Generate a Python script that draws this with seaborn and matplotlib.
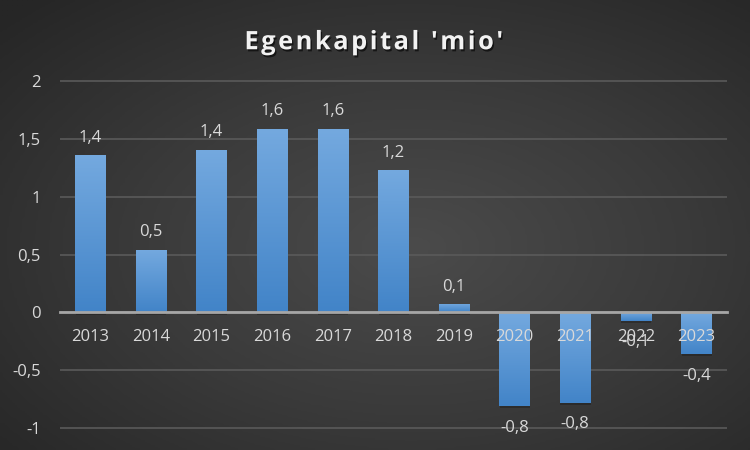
import numpy as np
import seaborn as sns
import matplotlib.pyplot as plt
import matplotlib.patheffects as pe
from matplotlib.colors import LinearSegmentedColormap

years = ["2013", "2014", "2015", "2016", "2017", "2018", "2019", "2020", "2021", "2022", "2023"]
values = [1.36, 0.54, 1.41, 1.59, 1.59, 1.23, 0.07, -0.81, -0.78, -0.07, -0.36]
yticks = [-1, -0.5, 0, 0.5, 1, 1.5, 2]
title = "Egenkapital 'mio'"


def comma(v):
    s = f"{v:.1f}".replace(".", ",")
    return s.replace(",0", "") if s.endswith(",0") else s


plt.rcParams['font.family'] = ['Open Sans', 'DejaVu Sans']
txt_col = "#d9d9d9"

fig = plt.figure(figsize=(7.5, 4.5), dpi=100)

# radial dark background
bg = fig.add_axes([0, 0, 1, 1], zorder=-2)
gx, gy = np.meshgrid(np.linspace(0, 1, 300), np.linspace(0, 1, 180))
r = np.sqrt(((gx - 0.55) / 0.75) ** 2 + ((gy - 0.45) / 0.75) ** 2)
bg_cmap = LinearSegmentedColormap.from_list("bg", ["#4b4b4b", "#3a3a3a", "#262626"])
bg.imshow(np.clip(r, 0, 1), cmap=bg_cmap, vmin=0, vmax=1, aspect="auto",
          extent=[0, 1, 0, 1], origin="lower")
bg.set_axis_off()

ax = fig.add_axes([0.08, 0.0233, 0.889, 0.8085])
ax.set_facecolor("none")

sns.barplot(x=years, y=values, color="#5b9bd5", width=0.5, ax=ax,
            saturation=1, zorder=3)

# gradient fill + soft shadow for each bar
bar_cmap = LinearSegmentedColormap.from_list("bar", ["#4284c8", "#74a9df"])
grad = np.linspace(0, 1, 100).reshape(-1, 1)
for p in ax.patches:
    p.set_path_effects([pe.SimplePatchShadow(offset=(0.3, -1.5), shadow_rgbFace="black", alpha=0.22),
                        pe.Normal()])
    x0, y0 = p.get_x(), p.get_y()
    w, h = p.get_width(), p.get_height()
    lo, hi = min(y0, y0 + h), max(y0, y0 + h)
    im = ax.imshow(grad, cmap=bar_cmap, origin="lower", aspect="auto",
                   extent=[x0, x0 + w, lo, hi], zorder=4)
    im.set_clip_path(p)
ax.set_xlim(-0.5, len(years) - 0.5)
ax.set_ylim(-1.1, 2.05)

# data labels
for i, v in enumerate(values):
    ax.annotate(comma(v), (i, v), xytext=(0, 7 if v >= 0 else -10), textcoords="offset points",
                ha="center", va="bottom" if v >= 0 else "top", color=txt_col, fontsize=12, zorder=6)

# axes styling
ax.set_yticks(yticks)
ax.set_yticklabels([comma(t) for t in yticks])
ax.set_axisbelow(False)
ax.grid(axis="y", color="#5a5a5a", linewidth=1.2)
ax.grid(axis="x", visible=False)
ax.yaxis.set_zorder(0.5)
ax.xaxis.set_zorder(8)
for s in ["top", "right", "left"]:
    ax.spines[s].set_visible(False)
ax.spines["bottom"].set_position(("data", 0))
ax.spines["bottom"].set_color("#a6a6a6")
ax.spines["bottom"].set_linewidth(2)
ax.spines["bottom"].set_zorder(5)
ax.tick_params(axis="both", length=0, colors=txt_col, labelsize=12)
ax.tick_params(axis="x", pad=12)
ax.tick_params(axis="y", pad=14)
ax.set_xlabel("")
ax.set_ylabel("")

# title with slight letter tracking (hair spaces)
fig.text(0.498, 0.905, "\u200a".join(title), ha="center", va="center", fontsize=18.3, fontweight="bold",
         color="#f2f2f2",
         path_effects=[pe.withSimplePatchShadow(offset=(1, -1.5), shadow_rgbFace="black", alpha=0.6)])

fig.savefig("out.png", dpi=100)
